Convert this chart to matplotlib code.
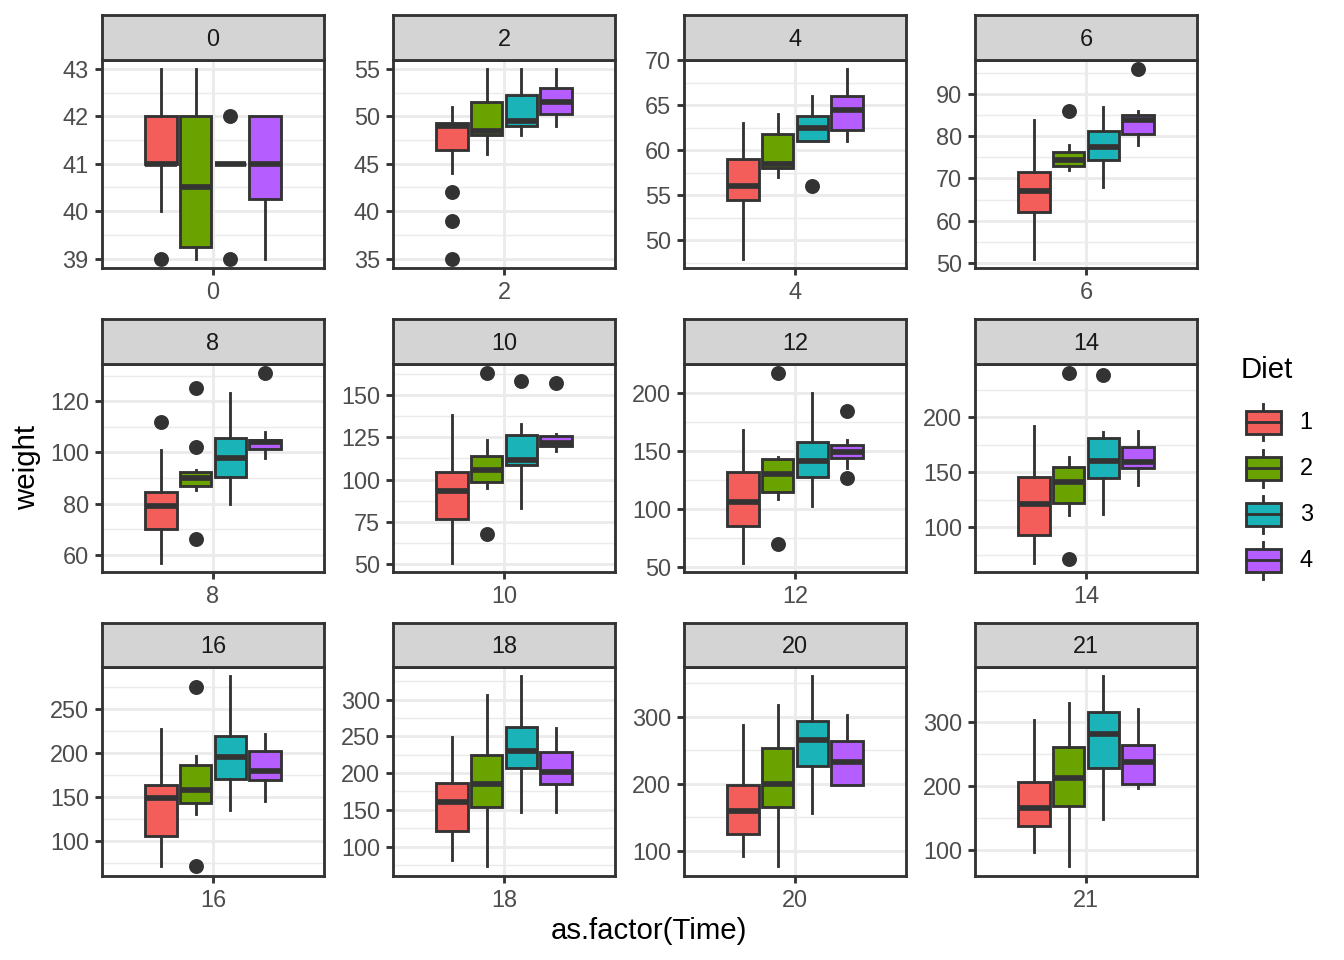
import matplotlib
matplotlib.use('Agg')
import matplotlib.pyplot as plt
import matplotlib.ticker as mticker
from matplotlib.legend_handler import HandlerBase
from matplotlib.patches import Rectangle, Patch
from matplotlib.lines import Line2D

plt.rcParams['font.family'] = ['Liberation Sans', 'DejaVu Sans']

# ChickWeight boxplot stats (one row per Time, one entry per Diet)
times = [0, 2, 4, 6, 8, 10, 12, 14, 16, 18, 20, 21]
diets = ['1', '2', '3', '4']
diet_colors = ['#F35E5A', '#6AA200', '#1AB3B8', '#B65DFF']
y_step = [1, 5, 5, 10, 20, 25, 50, 50, 50, 50, 100, 100]

whis_lo = [[40, 39, 41, 39], [44, 46, 48, 49], [48, 57, 61, 61], [51, 72, 68, 78],
           [57, 85.5, 80, 98], [51, 95, 83, 117], [54, 108.5, 103, 135.5], [68, 111, 112, 138.5],
           [72, 131.5, 135.5, 145.5], [82, 73.5, 146.5, 147], [92, 77, 156.5, 198.5], [96.5, 75, 148, 197]]
q1 = [[41, 39.25, 41, 40.25], [46.5, 48, 49, 50.25], [54.5, 58, 61, 62.25], [62, 73, 74.5, 80.5],
      [70, 87, 90.5, 101.5], [77, 98.5, 108.5, 120], [85.5, 115, 127.5, 144], [93, 122, 144.5, 153.5],
      [106.5, 143, 171, 169.5], [121, 154.5, 207, 184.5], [125, 165.5, 227, 198.5], [137.5, 168.5, 229, 204]]
med = [[41, 40.5, 41, 41], [49, 48.5, 49.5, 51.5], [56, 58.5, 62.5, 64.5], [67, 74.5, 77.5, 84],
       [79, 90, 98, 104], [93, 105.5, 111.5, 121.5], [106, 130.5, 141, 149], [121, 141, 160, 159],
       [149, 158.5, 195.5, 179.5], [160.5, 184.5, 230, 201.5], [160, 199, 265, 233], [166.5, 212.5, 281.5, 238.5]]
q3 = [[42, 42, 41, 42], [49.25, 51.5, 52.25, 53], [59, 61.75, 63.75, 66], [71.5, 76.25, 81.25, 85],
      [84.5, 92.5, 105.5, 104.75], [104.5, 114, 126.5, 125.5], [132, 143, 157.5, 155], [145.5, 154.5, 181, 173],
      [163.5, 186.5, 219.5, 202.5], [187, 224.5, 262.5, 228.5], [198.5, 253, 294, 264], [207, 261.5, 317, 264.5]]
whis_hi = [[43, 43, 41, 42], [51, 55, 55, 55], [63, 64, 66, 69], [84, 78, 87, 86],
           [101, 93, 123, 108], [138, 123.5, 133, 127], [168, 145, 200, 159], [192, 163.5, 186, 187.5],
           [227, 197, 287, 222], [249, 306.5, 331.5, 261], [288, 318, 360.5, 303], [304, 330.5, 372, 321]]
outliers = [[[39], [], [42, 39], []], [[42, 39, 35], [], [], []], [[], [], [56], []], [[], [86], [], [96]],
            [[112], [125, 102, 66], [], [131]], [[], [163, 68], [158], [157]], [[], [217, 70], [], [184, 127]],
            [[], [240, 71], [238], []], [[], [275, 72], [], []], [[], [], [], []], [[], [], [], []], [[], [], [], []]]

EDGE = '#333333'
W, H = 1344, 960
LW = 1.07


def px_box(x0, y0, w, h):
    return [x0 / W, 1 - (y0 + h) / H, w / W, h / H]


col_left = [102, 393, 684, 975]
row_top = [59.5, 363.5, 667]
panel_w, panel_h, strip_h = 222, 208.5, 44.5

offsets = [-0.28125, -0.09375, 0.09375, 0.28125]
box_w = 0.169

fig = plt.figure(figsize=(7, 5), dpi=192)

for i, t in enumerate(times):
    r, c = divmod(i, 4)
    ax = fig.add_axes(px_box(col_left[c], row_top[r], panel_w, panel_h))
    stats = []
    for j in range(len(diets)):
        stats.append(dict(whislo=whis_lo[i][j], q1=q1[i][j], med=med[i][j], q3=q3[i][j],
                          whishi=whis_hi[i][j], fliers=outliers[i][j]))
    bp = ax.bxp(stats, positions=offsets, widths=box_w, patch_artist=True, showcaps=False,
                boxprops=dict(edgecolor=EDGE, linewidth=LW),
                whiskerprops=dict(color=EDGE, linewidth=LW),
                medianprops=dict(color=EDGE, linewidth=2 * LW, solid_capstyle='butt'),
                flierprops=dict(marker='o', markerfacecolor=EDGE, markeredgecolor=EDGE,
                                markersize=4.6, linestyle='none'),
                manage_ticks=False)
    for patch, col in zip(bp['boxes'], diet_colors):
        patch.set_facecolor(col)

    vals = [v for v in whis_lo[i]] + [v for v in whis_hi[i]] + [v for o in outliers[i] for v in o]
    lo, hi = min(vals), max(vals)
    pad = 0.05 * (hi - lo)
    ax.set_ylim(lo - pad, hi + pad)
    ax.set_xlim(-0.6, 0.6)
    ax.set_xticks([0])
    ax.set_xticklabels([str(t)])
    ax.yaxis.set_major_locator(mticker.MultipleLocator(y_step[i]))
    ax.yaxis.set_minor_locator(mticker.MultipleLocator(y_step[i] / 2))
    ax.yaxis.set_major_formatter(mticker.FormatStrFormatter('%g'))
    ax.set_axisbelow(True)
    ax.grid(True, which='major', color='#EBEBEB', linewidth=LW)
    ax.grid(True, which='minor', axis='y', color='#EBEBEB', linewidth=LW / 2)
    ax.tick_params(which='major', length=2.75, width=LW, color=EDGE, labelcolor='#4D4D4D',
                   labelsize=8.8, pad=2.2)
    ax.tick_params(which='minor', length=0)
    for sp in ax.spines.values():
        sp.set_color(EDGE)
        sp.set_linewidth(LW)

    sax = fig.add_axes(px_box(col_left[c], row_top[r] - strip_h, panel_w, strip_h))
    sax.set_facecolor('#D4D4D4')
    sax.set_xticks([])
    sax.set_yticks([])
    for sp in sax.spines.values():
        sp.set_color(EDGE)
        sp.set_linewidth(LW)
    sax.text(0.5, 0.46, str(t), ha='center', va='center', fontsize=8.8, color='#1A1A1A',
             transform=sax.transAxes)

fig.text(27 / W, 1 - 467 / H, 'weight', rotation=90, ha='center', va='center', fontsize=11)
fig.text(649.5 / W, 1 - 931 / H, 'as.factor(Time)', ha='center', va='center', fontsize=11)


class BoxKey(HandlerBase):
    def create_artists(self, legend, orig_handle, xdescent, ydescent, width, height, fontsize, trans):
        x0, y0 = -xdescent, -ydescent
        cx = x0 + width / 2
        arts = [
            Line2D([cx, cx], [y0 + 0.1 * height, y0 + 0.9 * height], color=EDGE, linewidth=LW, transform=trans),
            Rectangle((x0 + 0.12 * width, y0 + 0.25 * height), 0.76 * width, 0.5 * height,
                      facecolor=orig_handle.get_facecolor(), edgecolor=EDGE, linewidth=LW, transform=trans),
            Line2D([x0 + 0.12 * width, x0 + 0.88 * width], [y0 + 0.5 * height] * 2, color=EDGE,
                   linewidth=LW, transform=trans),
        ]
        return arts


# legend keys are 17.28pt squares; matplotlib shrinks the row height, so undo that
key_w = 17.28 / 8.8
key_h = (17.28 / 8.8 - 0.245) / 0.65
handles = [Patch(facecolor=col) for col in diet_colors]
fig.text(1241 / W, 1 - 370 / H, 'Diet', ha='left', va='center', fontsize=11)
fig.legend(handles, diets, handler_map={Patch: BoxKey()}, loc='upper left',
           bbox_to_anchor=(1240 / W, 1 - 399 / H), frameon=False, prop={'size': 8.8},
           handlelength=key_w, handleheight=key_h, labelspacing=0,
           handletextpad=0.58, borderpad=0, borderaxespad=0)

fig.savefig('out.png', dpi=192)
